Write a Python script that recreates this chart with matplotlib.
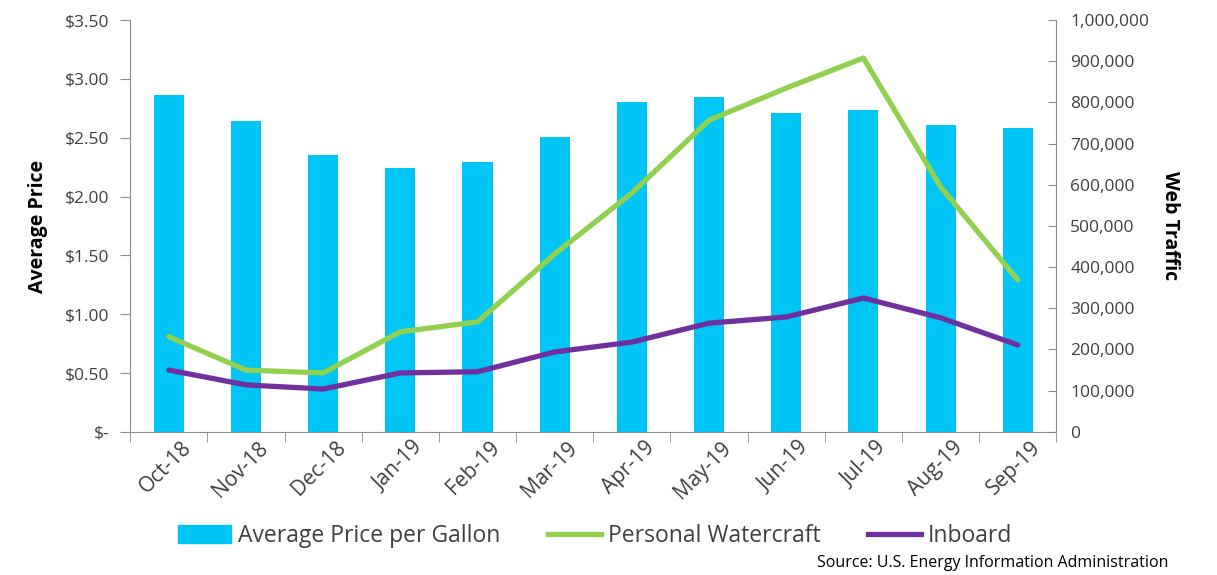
import matplotlib
matplotlib.use("Agg")
import matplotlib.pyplot as plt
from matplotlib.ticker import FuncFormatter, FixedLocator
from matplotlib.patches import Patch
from matplotlib.lines import Line2D
from matplotlib.transforms import ScaledTranslation
import numpy as np

plt.rcParams['font.family'] = ['Open Sans', 'DejaVu Sans']

months = ["Oct-18", "Nov-18", "Dec-18", "Jan-19", "Feb-19", "Mar-19",
          "Apr-19", "May-19", "Jun-19", "Jul-19", "Aug-19", "Sep-19"]
avg_price = [2.86, 2.64, 2.35, 2.24, 2.29, 2.51, 2.80, 2.85, 2.71, 2.74, 2.61, 2.58]
personal_watercraft = [231000, 150000, 143000, 243000, 267000, 432000,
                       580000, 757000, 835000, 908000, 595000, 369000]
inboard = [150000, 114000, 104000, 143000, 146000, 194000,
           218000, 264000, 279000, 325000, 277000, 211000]

price_ticks = [0, 0.5, 1.0, 1.5, 2.0, 2.5, 3.0, 3.5]
traffic_ticks = list(range(0, 1000001, 100000))

bar_color = "#00C5F5"
green = "#92D050"
purple = "#7030A0"
axis_color = "#8C8C8C"
text_color = "#404040"

fig = plt.figure(figsize=(12.17, 5.75), dpi=100)
ax = fig.add_axes([0.107, 0.249, 0.761, 0.716])
x = np.arange(len(months))
ax.bar(x, avg_price, width=0.39, color=bar_color, zorder=2)
ax.set_xlim(-0.5, len(months) - 0.5)
ax.set_ylim(0, 3.5)
ax.yaxis.set_major_locator(FixedLocator(price_ticks))
ax.yaxis.set_major_formatter(FuncFormatter(lambda v, p: "$-" if v == 0 else f"${v:.2f}"))
ax.set_xticks(x)
ax.set_xticklabels(months, rotation=45, ha="right", rotation_mode="anchor")
ax.tick_params(axis="x", length=0, labelsize=15, colors=text_color, pad=4)
offset = ScaledTranslation(0.12, 0, fig.dpi_scale_trans)
for lab in ax.get_xticklabels():
    lab.set_transform(lab.get_transform() + offset)
ax.set_xticks(np.arange(-0.5, len(months)), minor=True)
ax.tick_params(axis="x", which="minor", length=7, color=axis_color, direction="out")
ax.tick_params(axis="y", length=7, color=axis_color, labelsize=12.5, labelcolor=text_color, direction="out", pad=8)
for s in ["top", "right"]:
    ax.spines[s].set_visible(False)
for s in ["left", "bottom"]:
    ax.spines[s].set_color(axis_color)
ax.set_ylabel("Average Price", fontsize=14, fontweight="bold", color="black", labelpad=12)

ax2 = ax.twinx()
ax2.plot(x, personal_watercraft, color=green, lw=3.8, solid_capstyle="round", zorder=3)
ax2.plot(x, inboard, color=purple, lw=3.8, solid_capstyle="round", zorder=3)
ax2.set_ylim(0, 1000000)
ax2.yaxis.set_major_locator(FixedLocator(traffic_ticks))
ax2.yaxis.set_major_formatter(FuncFormatter(lambda v, p: f"{int(v):,}"))
ax2.tick_params(axis="y", length=6, color=axis_color, labelsize=12.5, labelcolor=text_color, direction="in", pad=10)
for s in ["top", "left", "bottom"]:
    ax2.spines[s].set_visible(False)
ax2.spines["right"].set_color(axis_color)
ax2.set_ylabel("Web Traffic", fontsize=14, fontweight="bold", color="black", rotation=270, labelpad=22)

handles = [Patch(color=bar_color, label="Average Price per Gallon"),
           Line2D([0], [0], color=green, lw=3.8, label="Personal Watercraft"),
           Line2D([0], [0], color=purple, lw=3.8, label="Inboard")]
fig.legend(handles=handles, loc="center", bbox_to_anchor=(0.489, 0.068), ncol=3,
           frameon=False, fontsize=16.5, handlelength=2.3, handleheight=0.8,
           columnspacing=2.1, handletextpad=0.3, labelcolor=text_color)

fig.text(0.96, 0.021, "Source: U.S. Energy Information Administration", ha="right",
         va="center", fontsize=11.5, color="black")

fig.savefig("out.png", dpi=100)
